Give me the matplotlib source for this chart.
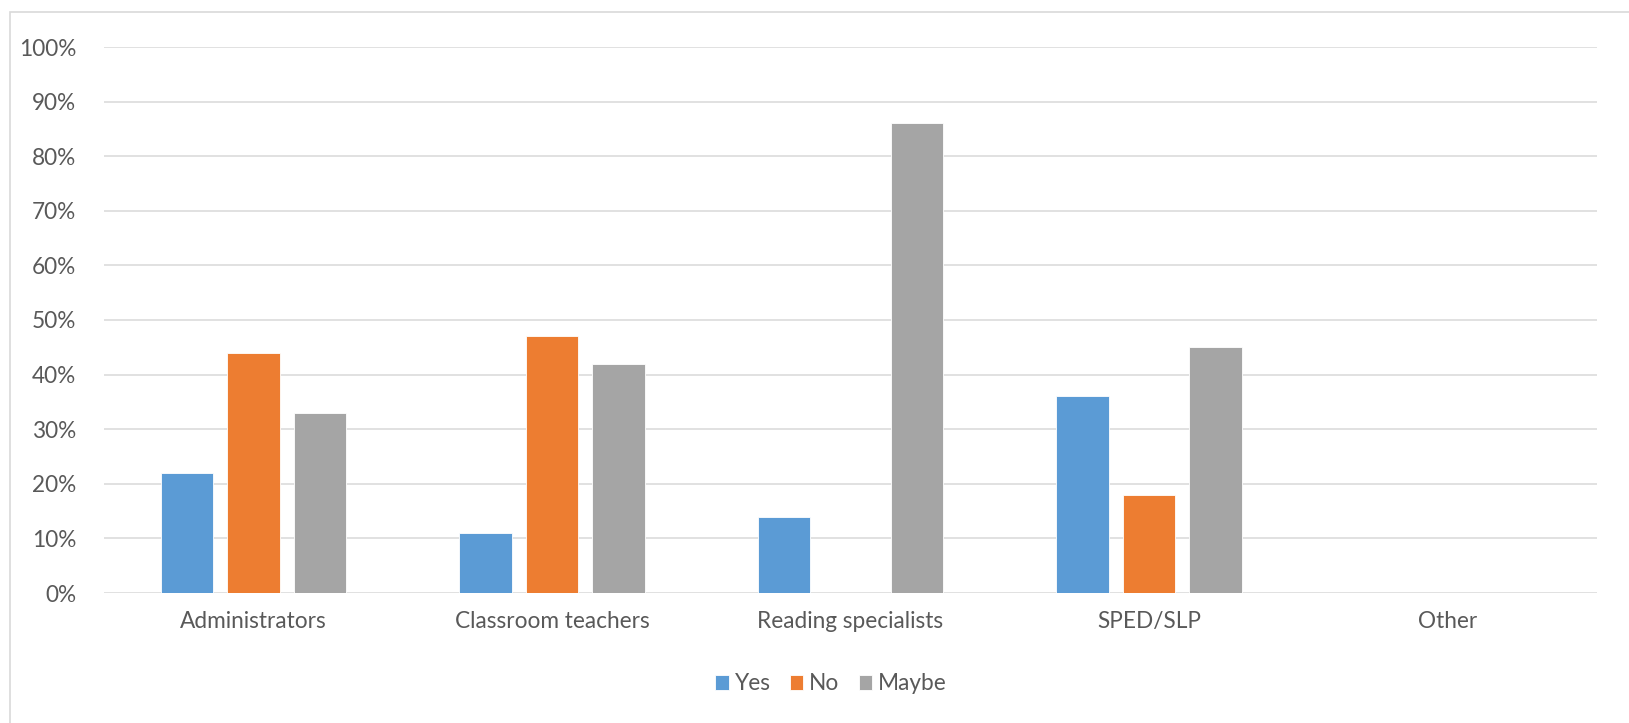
import numpy as np
import matplotlib
matplotlib.use("Agg")
import matplotlib.pyplot as plt
from matplotlib.patches import Rectangle
from matplotlib.ticker import PercentFormatter

plt.rcParams['font.family'] = ['Lato', 'DejaVu Sans']

# data
categories = ["Administrators", "Classroom teachers", "Reading specialists", "SPED/SLP", "Other"]
yes = [22, 11, 14, 36, 0]
no = [44, 47, 0, 18, 0]
maybe = [33, 42, 86, 45, 0]
series = ["Yes", "No", "Maybe"]
colors = ["#5B9BD5", "#ED7D31", "#A5A5A5"]

fig = plt.figure(figsize=(16.29, 7.23), dpi=100)
ax = fig.add_axes([104 / 1629, 1 - 593 / 723, (1597 - 104) / 1629, (593 - 47) / 723])

# light outer border like the excel chart area
fig.patches.append(Rectangle((10 / 1629, -0.05), 1.2, 1 - 12 / 723 + 0.05,
                             transform=fig.transFigure, fill=False,
                             edgecolor="#D9D9D9", linewidth=1.2))

x = np.arange(len(categories))
pitch = 0.2227
width = 0.176
for i, (vals, lab, c) in enumerate(zip([yes, no, maybe], series, colors)):
    ax.bar(x + (i - 1) * pitch, vals, width, color=c, label=lab,
           edgecolor="white", linewidth=0.6, zorder=3)

ax.set_xlim(-0.5, len(categories) - 0.5)
ax.set_ylim(0, 100)
ax.set_yticks(np.arange(0, 101, 10))
ax.yaxis.set_major_formatter(PercentFormatter(decimals=0))
ax.set_xticks(x)
ax.set_xticklabels(categories)

ax.grid(axis="y", color="#D9D9D9", linewidth=1.1, zorder=0)
for s in ax.spines.values():
    s.set_visible(False)
ax.tick_params(length=0, labelsize=16.3, labelcolor="#595959")
ax.tick_params(axis="x", pad=13)
ax.tick_params(axis="y", pad=20)

ax.legend(loc="center", bbox_to_anchor=(831 / 1629, 1 - 684 / 723),
          bbox_transform=fig.transFigure, ncol=3, frameon=False,
          fontsize=16.3, labelcolor="#595959", handlelength=0.6,
          handleheight=0.6, handletextpad=0.25, columnspacing=0.85)

fig.savefig("out.png", dpi=100)
